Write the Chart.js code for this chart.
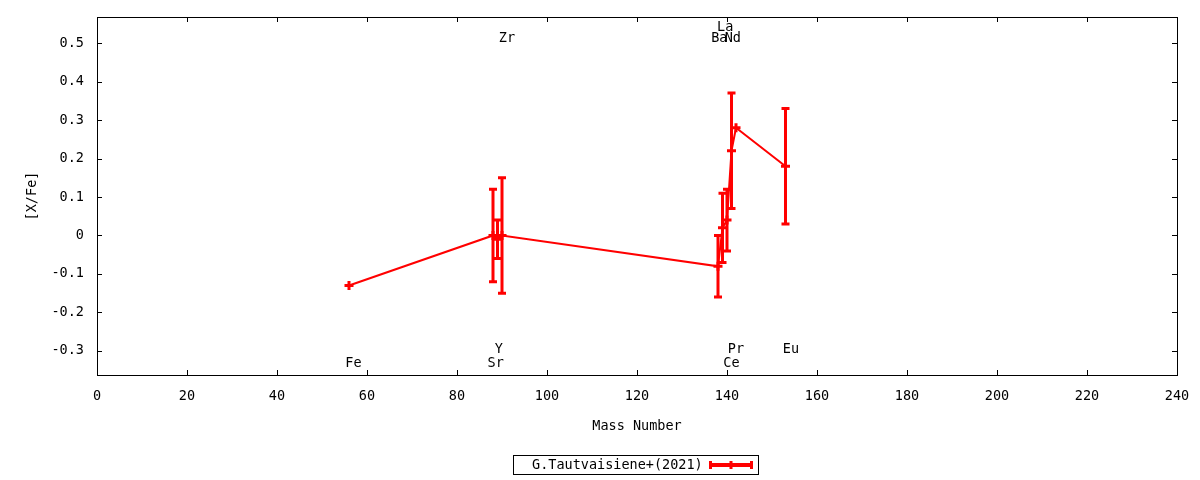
<!DOCTYPE html>
<html>
<head>
<meta charset="utf-8">
<script src="https://cdn.jsdelivr.net/npm/chart.js@4.4.1/dist/chart.umd.min.js"></script>
<style>
  body { margin: 0; background: #fff; }
</style>
</head>
<body>
<canvas id="chart" width="1200" height="480"></canvas>
<script>
// datos
const massNumbers = [56, 88, 89, 90, 138, 139, 140, 141, 142, 153];
const abundances  = [-0.13, 0.00, -0.01, 0.00, -0.08, 0.02, 0.04, 0.22, 0.28, 0.18];
const errors      = [0.00, 0.12, 0.05, 0.15, 0.08, 0.09, 0.08, 0.15, 0.00, 0.15];
const seriesName  = 'G.Tautvaisiene+(2021)';

const xTicks = [0, 20, 40, 60, 80, 100, 120, 140, 160, 180, 200, 220, 240];
const yTicks = [-0.3, -0.2, -0.1, 0, 0.1, 0.2, 0.3, 0.4, 0.5];

// etiquetas de los elementos (en coordenadas de datos)
const elementNames  = ['Fe', 'Sr', 'Y', 'Zr', 'Ba', 'La', 'Ce', 'Pr', 'Nd', 'Eu'];
const elementLabelX = [57.0, 88.6, 89.3, 91.1, 138.3, 139.6, 141.0, 142.0, 141.3, 154.2];
const elementLabelY = [-0.333, -0.333, -0.297, 0.513, 0.513, 0.541, -0.333, -0.297, 0.513, -0.297];

const RED = '#ff0000';
const FONT = { family: "'DejaVu Sans Mono', monospace", size: 13.5 };

Chart.defaults.color = '#000';
Chart.defaults.font.family = FONT.family;
Chart.defaults.font.size = FONT.size;

const points = massNumbers.map((m, i) => ({ x: m, y: abundances[i] }));

// barras de error, etiquetas, marco y leyenda al estilo gnuplot
const gnuplotExtras = {
  id: 'gnuplotExtras',
  afterDatasetsDraw(chart) {
    const ctx = chart.ctx;
    const xs = chart.scales.x;
    const ys = chart.scales.y;
    ctx.save();
    ctx.strokeStyle = RED;
    ctx.lineWidth = 3;
    ctx.lineCap = 'butt';
    massNumbers.forEach((m, i) => {
      if (!errors[i]) return;
      const px = xs.getPixelForValue(m);
      const top = ys.getPixelForValue(abundances[i] + errors[i]);
      const bot = ys.getPixelForValue(abundances[i] - errors[i]);
      ctx.beginPath();
      ctx.moveTo(px, top); ctx.lineTo(px, bot);
      ctx.moveTo(px - 4, top); ctx.lineTo(px + 4, top);
      ctx.moveTo(px - 4, bot); ctx.lineTo(px + 4, bot);
      ctx.stroke();
    });
    ctx.restore();
  },
  afterDraw(chart) {
    const ctx = chart.ctx;
    const xs = chart.scales.x;
    const ys = chart.scales.y;
    const area = chart.chartArea;
    ctx.save();

    // etiquetas de elementos
    ctx.fillStyle = '#000';
    ctx.font = FONT.size + 'px ' + FONT.family;
    ctx.textAlign = 'center';
    ctx.textBaseline = 'middle';
    elementNames.forEach((name, i) => {
      ctx.fillText(name, xs.getPixelForValue(elementLabelX[i]), ys.getPixelForValue(elementLabelY[i]));
    });

    // marco
    ctx.strokeStyle = '#000';
    ctx.lineWidth = 1;
    ctx.strokeRect(Math.round(area.left) + 0.5, Math.round(area.top) + 0.5,
      Math.round(area.right - area.left), Math.round(area.bottom - area.top));

    // ticks hacia adentro
    const tl = 5;
    ctx.beginPath();
    xTicks.forEach(v => {
      const px = Math.round(xs.getPixelForValue(v)) + 0.5;
      ctx.moveTo(px, area.bottom); ctx.lineTo(px, area.bottom - tl);
      ctx.moveTo(px, area.top); ctx.lineTo(px, area.top + tl);
    });
    yTicks.forEach(v => {
      const py = Math.round(ys.getPixelForValue(v)) + 0.5;
      ctx.moveTo(area.left, py); ctx.lineTo(area.left + tl, py);
      ctx.moveTo(area.right, py); ctx.lineTo(area.right - tl, py);
    });
    ctx.stroke();

    // leyenda
    const lx = 513.5, ly = 455.5, lw = 245, lh = 19;
    ctx.strokeRect(lx, ly, lw, lh);
    ctx.textAlign = 'left';
    ctx.fillText(chart.data.datasets[0].label, 532, ly + lh / 2 + 0.5);
    const sy = ly + lh / 2;
    ctx.strokeStyle = RED;
    ctx.lineWidth = 4;
    ctx.beginPath();
    ctx.moveTo(709, sy); ctx.lineTo(753, sy);
    ctx.stroke();
    ctx.lineWidth = 3;
    ctx.beginPath();
    [710.5, 731, 751.5].forEach(cx => {
      ctx.moveTo(cx, sy - 4); ctx.lineTo(cx, sy + 4);
    });
    ctx.stroke();
    ctx.restore();
  }
};

new Chart(document.getElementById('chart'), {
  type: 'line',
  data: {
    datasets: [{
      label: seriesName,
      data: points,
      borderColor: RED,
      backgroundColor: RED,
      borderWidth: 2,
      pointStyle: 'cross',
      pointRadius: 4.5,
      pointBorderWidth: 3,
      pointBorderColor: RED,
      tension: 0,
      fill: false
    }]
  },
  options: {
    responsive: false,
    devicePixelRatio: 1,
    animation: false,
    layout: { padding: { top: 17, right: 23, left: 0, bottom: 0 } },
    plugins: {
      legend: { display: false },
      tooltip: { enabled: false }
    },
    scales: {
      x: {
        type: 'linear',
        min: 0,
        max: 240,
        afterBuildTicks: scale => { scale.ticks = xTicks.map(v => ({ value: v })); },
        afterFit: scale => {
          scale.height = 105;
          scale.paddingLeft = 0;
          scale.paddingRight = 0;
        },
        grid: { display: false, drawTicks: false },
        border: { display: false },
        ticks: { padding: 13, maxRotation: 0, color: '#000' },
        title: { display: true, text: 'Mass Number', color: '#000', padding: { top: 0, bottom: 45 } }
      },
      y: {
        type: 'linear',
        min: -0.3625,
        max: 0.5677,
        afterBuildTicks: scale => { scale.ticks = yTicks.map(v => ({ value: v })); },
        afterFit: scale => {
          scale.width = 97;
          scale.paddingTop = 0;
          scale.paddingBottom = 0;
        },
        grid: { display: false, drawTicks: false },
        border: { display: false },
        ticks: {
          padding: 13,
          color: '#000',
          callback: v => (Math.abs(v) < 1e-9 ? '0' : v.toFixed(1))
        },
        title: { display: true, text: '[X/Fe]', color: '#000', padding: { top: 24, bottom: 0 } }
      }
    }
  },
  plugins: [gnuplotExtras]
});
</script>
</body>
</html>
